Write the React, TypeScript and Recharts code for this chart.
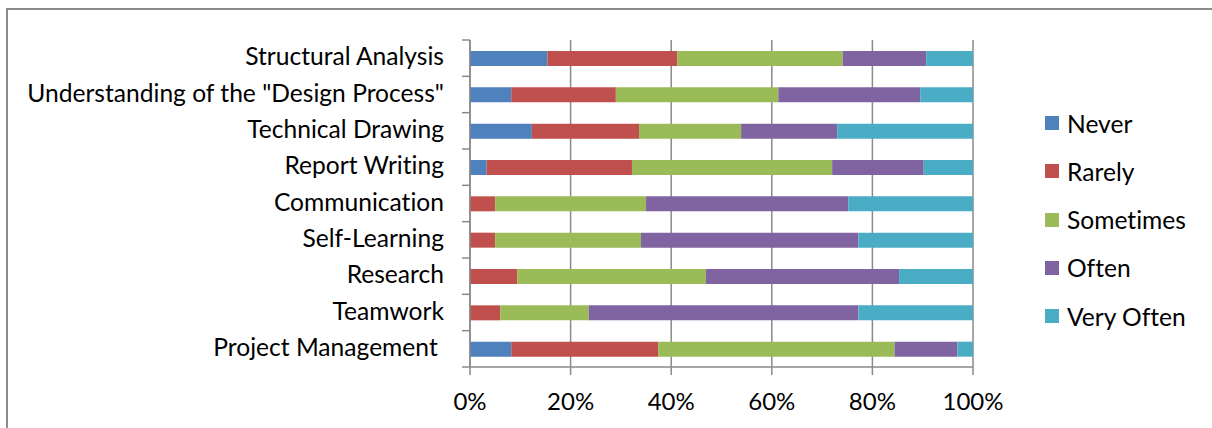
import { BarChart, Bar, XAxis, YAxis, CartesianGrid, Legend } from "recharts";

const skills = [
  "Structural Analysis",
  'Understanding of the "Design Process"',
  "Technical Drawing",
  "Report Writing",
  "Communication",
  "Self-Learning",
  "Research",
  "Teamwork",
  "Project Management\u00a0",
];

const never = [15.4, 8.2, 12.3, 3.3, 0, 0, 0, 0, 8.2];
const rarely = [25.8, 20.8, 21.3, 28.9, 5.0, 5.0, 9.4, 6.0, 29.2];
const sometimes = [32.9, 32.3, 20.3, 39.8, 30.0, 29.0, 37.5, 17.6, 47.0];
const often = [16.6, 28.2, 19.1, 18.2, 40.2, 43.2, 38.4, 53.6, 12.5];
const veryOften = [9.3, 10.5, 27.0, 9.8, 24.8, 22.8, 14.7, 22.8, 3.1];

const xTicks = [0, 0.2, 0.4, 0.6, 0.8, 1];

const series = [
  { key: "never", name: "Never", color: "#4F81BD" },
  { key: "rarely", name: "Rarely", color: "#C0504D" },
  { key: "sometimes", name: "Sometimes", color: "#9BBB59" },
  { key: "often", name: "Often", color: "#8064A2" },
  { key: "veryOften", name: "Very Often", color: "#4BACC6" },
];

const data = skills.map((skill, i) => ({
  skill,
  never: never[i],
  rarely: rarely[i],
  sometimes: sometimes[i],
  often: often[i],
  veryOften: veryOften[i],
}));

const W = 1212;
const H = 428;
const TOP = 40;
const X_AXIS_H = 61;
const Y_AXIS_W = 470;
const TICK = 8;
const FONT = "Lato, 'Open Sans', sans-serif";
const LABEL_SIZE = 24.6;
const AXIS_COLOR = "#8a8a8a";
const noLig = { fontVariantLigatures: "none" as const, fontFeatureSettings: '"liga" 0, "clig" 0' };

const band = (H - TOP - X_AXIS_H) / skills.length;

// label plus the little tick marks that sit between categories
const SkillTick = (props: any) => {
  const { x, y, payload, index } = props;
  const last = index === skills.length - 1;
  return (
    <g>
      <line x1={Y_AXIS_W - TICK} x2={Y_AXIS_W} y1={y - band / 2} y2={y - band / 2} stroke={AXIS_COLOR} strokeWidth={1.5} />
      {last && (
        <line x1={Y_AXIS_W - TICK} x2={Y_AXIS_W} y1={y + band / 2} y2={y + band / 2} stroke={AXIS_COLOR} strokeWidth={1.5} />
      )}
      <text x={x} y={y} dy="0.29em" textAnchor="end" fill="#000" fontSize={LABEL_SIZE} fontFamily={FONT} style={noLig}>
        {payload.value}
      </text>
    </g>
  );
};

const LegendList = () => (
  <div style={{ fontFamily: FONT, fontSize: LABEL_SIZE, color: "#000", ...noLig }}>
    {series.map((s) => (
      <div key={s.key} style={{ display: "flex", alignItems: "center", height: 48.25 }}>
        <span style={{ width: 14, height: 14, background: s.color, marginRight: 8, display: "inline-block" }} />
        <span>{s.name}</span>
      </div>
    ))}
  </div>
);

export default function App() {
  return (
    <div style={{ position: "absolute", left: 0, top: 0, width: W, height: H, background: "#fff", overflow: "hidden" }}>
      <div
        style={{
          position: "absolute",
          left: 6,
          top: 8,
          width: W,
          height: H,
          borderTop: "2px solid #8c8c8c",
          borderLeft: "2px solid #8c8c8c",
        }}
      />
      <BarChart
        width={W}
        height={H}
        data={data}
        layout="vertical"
        stackOffset="expand"
        barSize={15}
        margin={{ top: TOP, right: W - 973, bottom: 0, left: 0 }}
      >
        <CartesianGrid horizontal={false} stroke={AXIS_COLOR} strokeWidth={1.5} />
        <XAxis
          type="number"
          domain={[0, 1]}
          ticks={xTicks}
          height={X_AXIS_H}
          tickSize={TICK}
          tickMargin={18}
          stroke={AXIS_COLOR}
          strokeWidth={1.5}
          tick={{ fill: "#000", fontSize: 24, fontFamily: FONT }}
          tickFormatter={(v: number) => `${Math.round(v * 100)}%`}
        />
        <YAxis
          type="category"
          dataKey="skill"
          width={Y_AXIS_W}
          tickLine={false}
          tickSize={TICK}
          tickMargin={18}
          stroke={AXIS_COLOR}
          strokeWidth={1.5}
          interval={0}
          tick={<SkillTick />}
        />
        {series.map((s) => (
          <Bar key={s.key} dataKey={s.key} name={s.name} stackId="a" fill={s.color} isAnimationActive={false} />
        ))}
        <Legend
          layout="vertical"
          align="center"
          verticalAlign="middle"
          content={<LegendList />}
          wrapperStyle={{ left: 1045, top: 99, width: 160 }}
        />
      </BarChart>
    </div>
  );
}
